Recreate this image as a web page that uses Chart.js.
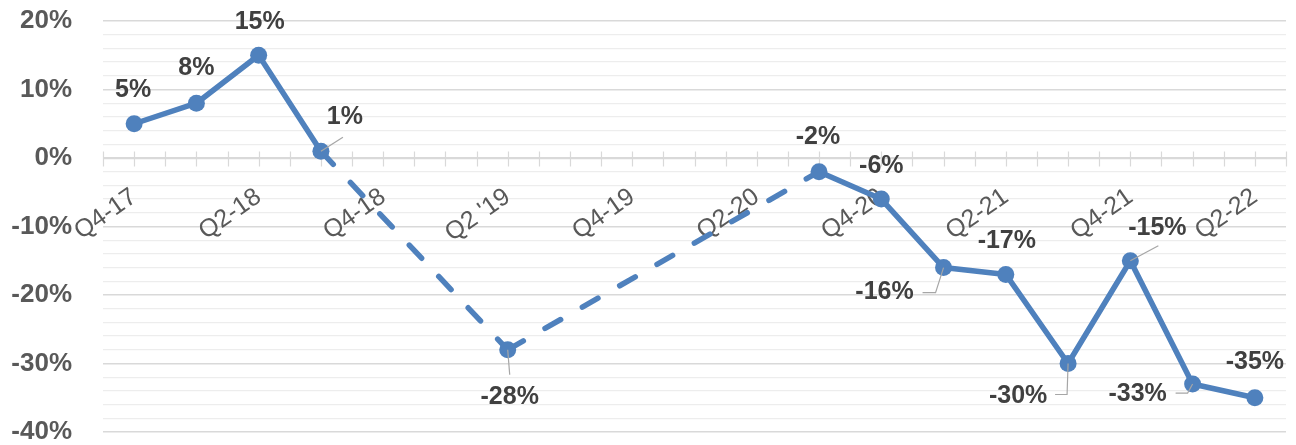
<!DOCTYPE html>
<html>
<head>
<meta charset="utf-8">
<script src="https://cdn.jsdelivr.net/npm/chart.js@4/dist/chart.umd.min.js"></script>
<style>
  html, body { margin: 0; padding: 0; background: #fff; }
  #wrap { width: 1296px; height: 445px; }
</style>
</head>
<body>
<div id="wrap"><canvas id="chart" width="1296" height="445"></canvas></div>
<script>
// quarters on the x axis
const categories = ['Q4-17', 'Q1-18', 'Q2-18', 'Q3-18', 'Q4-18', 'Q1-19', "Q2 '19", 'Q3-19', 'Q4-19', 'Q1-20',
  'Q2-20', 'Q3-20', 'Q4-20', 'Q1-21', 'Q2-21', 'Q3-21', 'Q4-21', 'Q1-22', 'Q2-22'];
// only every other quarter gets a label
const tickLabels = ['Q4-17', '', 'Q2-18', '', 'Q4-18', '', "Q2 '19", '', 'Q4-19', '',
  'Q2-20', '', 'Q4-20', '', 'Q2-21', '', 'Q4-21', '', 'Q2-22'];
// % change, null where no reading
const values = [5, 8, 15, 1, null, null, -28, null, null, null, null, -2, -6, -16, -17, -30, -15, -33, -35];

const yMin = -40;
const yMax = 20;
const yStep = 2;      // light grid lines
const yLabelStep = 10; // labelled / darker grid lines

// where each data label sits relative to its point, plus optional leader line
const labelPlacement = {
  0: { dx: -1, dy: -34 },
  1: { dx: 0, dy: -35 },
  2: { dx: 1, dy: -33 },
  3: { dx: 24, dy: -34, leader: [[22, -14]] },
  6: { dx: 2, dy: 47, leader: [[2, 25]] },
  11: { dx: -1, dy: -35 },
  12: { dx: 0, dy: -33 },
  13: { dx: -59, dy: 25, leader: [[-8, 25], [-21, 25]] },
  14: { dx: 1, dy: -33 },
  15: { dx: -50, dy: 33, leader: [[-1, 31], [-13, 31]] },
  16: { dx: 27, dy: -33, leader: [[28, -15]] },
  17: { dx: -55, dy: 10, leader: [[-5, 9], [-17, 9]] },
  18: { dx: 0, dy: -36 }
};

const blue = '#4f81bd';
const axisGrey = '#d9d9d9';

// x axis line through 0% with small tick marks every half category
const zeroAxis = {
  id: 'zeroAxis',
  beforeDatasetsDraw(chart) {
    const { ctx, chartArea, scales: { x, y } } = chart;
    const y0 = Math.round(y.getPixelForValue(0)) + 0.5;
    const half = (x.getPixelForValue(1) - x.getPixelForValue(0)) / 2;
    ctx.save();
    ctx.strokeStyle = axisGrey;
    ctx.lineWidth = 1.5;
    ctx.beginPath();
    ctx.moveTo(chartArea.left, y0);
    ctx.lineTo(chartArea.right, y0);
    ctx.stroke();
    ctx.lineWidth = 1.2;
    ctx.beginPath();
    const start = x.getPixelForValue(0) - half;
    for (let k = 0; k <= categories.length * 2; k++) {
      const px = Math.round(start + k * half) + 0.5;
      ctx.moveTo(px, y0 - 7);
      ctx.lineTo(px, y0 + 8);
    }
    ctx.stroke();
    ctx.restore();
  }
};

// data labels with grey leader lines
const dataLabels = {
  id: 'dataLabels',
  afterDatasetsDraw(chart) {
    const { ctx } = chart;
    const meta = chart.getDatasetMeta(0);
    ctx.save();
    meta.data.forEach((pt, i) => {
      const v = values[i];
      const place = labelPlacement[i];
      if (v === null || !place) return;
      if (place.leader) {
        ctx.strokeStyle = '#a6a6a6';
        ctx.lineWidth = 1.2;
        ctx.beginPath();
        ctx.moveTo(pt.x, pt.y);
        place.leader.forEach(([lx, ly]) => ctx.lineTo(pt.x + lx, pt.y + ly));
        ctx.stroke();
      }
      ctx.fillStyle = '#404040';
      ctx.font = 'bold 25px "Liberation Sans", Arial, sans-serif';
      ctx.textAlign = 'center';
      ctx.textBaseline = 'middle';
      ctx.fillText(v + '%', pt.x + place.dx, pt.y + place.dy);
    });
    ctx.restore();
  }
};

// a stretch across missing quarters is dashed
const isGap = c => c.p0.skip || c.p1.skip;
// number of real readings before a point, used to restart the dash at each real point
const readingsBefore = i => values.slice(0, i).filter(v => v !== null).length;

new Chart(document.getElementById('chart'), {
  type: 'line',
  data: {
    labels: categories,
    datasets: [{
      data: values,
      borderColor: blue,
      backgroundColor: blue,
      borderWidth: 5.5,
      borderCapStyle: 'round',
      borderJoinStyle: 'round',
      pointRadius: 8.5,
      pointHoverRadius: 8.5,
      pointBorderWidth: 0,
      pointBackgroundColor: blue,
      spanGaps: true,
      tension: 0,
      segment: {
        borderDash: c => isGap(c) ? [18, 25] : [],
        borderDashOffset: c => isGap(c) ? readingsBefore(c.p1DataIndex) * 0.001 : 0
      }
    }]
  },
  options: {
    responsive: false,
    animation: false,
    devicePixelRatio: 1,
    layout: { padding: { left: 0, right: 10, top: 21, bottom: 13 } },
    plugins: {
      legend: { display: false },
      tooltip: { enabled: false }
    },
    scales: {
      x: {
        type: 'category',
        offset: true,
        position: { y: 0 },
        grid: { display: false, drawTicks: false },
        border: { display: false },
        ticks: {
          autoSkip: false,
          minRotation: 35,
          maxRotation: 35,
          padding: 24,
          color: '#595959',
          font: { family: '"Liberation Sans", Arial, sans-serif', size: 25 },
          callback: (v, i) => tickLabels[i]
        },
        afterFit: s => { s.paddingLeft = 0; s.paddingRight = 0; s.paddingTop = 0; s.paddingBottom = 0; }
      },
      y: {
        min: yMin,
        max: yMax,
        border: { display: false },
        grid: {
          drawTicks: false,
          color: c => c.tick.value % yLabelStep === 0 ? axisGrey : '#ededed',
          lineWidth: c => c.tick.value % yLabelStep === 0 ? 1.6 : 1.3
        },
        ticks: {
          autoSkip: false,
          padding: 31,
          color: '#595959',
          font: { family: '"Liberation Sans", Arial, sans-serif', size: 26, weight: 'bold' },
          callback: v => v % yLabelStep === 0 ? v + '%' : ''
        },
        afterBuildTicks: s => {
          const t = [];
          for (let v = yMin; v <= yMax; v += yStep) t.push({ value: v });
          s.ticks = t;
        },
        afterFit: s => { s.width = 103; s.paddingTop = 0; s.paddingBottom = 0; }
      }
    }
  },
  plugins: [zeroAxis, dataLabels]
});
</script>
</body>
</html>
